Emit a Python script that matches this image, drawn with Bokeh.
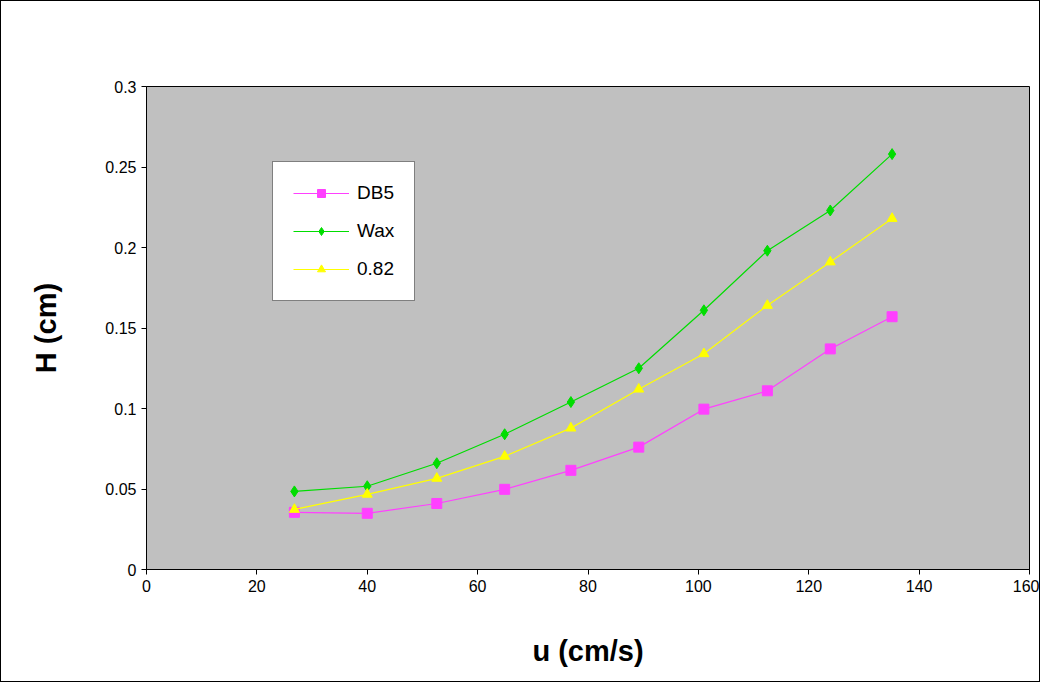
from bokeh.plotting import figure
from bokeh.models import Legend, LegendItem, FixedTicker, Range1d
from bokeh.embed import file_html
from bokeh.resources import INLINE

u = [26.8, 40.0, 52.6, 64.9, 76.9, 89.2, 101.0, 112.5, 123.9, 135.1]
db5 = [0.0355, 0.0349, 0.041, 0.0498, 0.0616, 0.076, 0.0996, 0.111, 0.137, 0.157]
wax = [0.0485, 0.0517, 0.066, 0.084, 0.104, 0.125, 0.161, 0.198, 0.223, 0.258]
v082 = [0.0373, 0.0467, 0.0566, 0.0703, 0.0878, 0.112, 0.134, 0.164, 0.191, 0.218]

p = figure(width=1040, height=682, output_backend="svg", toolbar_location=None,
           x_range=Range1d(0, 160), y_range=Range1d(0, 0.3),
           min_border_left=145, min_border_right=12, min_border_top=85, min_border_bottom=114,
           background_fill_color="#C0C0C0", border_fill_color="white")
p.styles = {"border": "1px solid black"}
p.outline_line_color = "black"
p.outline_line_width = 1
p.grid.visible = False

p.xaxis.ticker = FixedTicker(ticks=list(range(0, 161, 20)))
p.yaxis.ticker = FixedTicker(ticks=[0, 0.05, 0.1, 0.15, 0.2, 0.25, 0.3])
p.yaxis.major_label_overrides = {0: "0", 0.05: "0.05", 0.1: "0.1", 0.15: "0.15",
                                 0.2: "0.2", 0.25: "0.25", 0.3: "0.3"}
for ax in (p.xaxis, p.yaxis):
    ax.major_tick_in = 0
    ax.major_tick_out = 5
    ax.minor_tick_line_color = None
    ax.major_label_text_font = "Liberation Sans"
    ax.major_label_text_font_size = "16px"
    ax.major_label_text_color = "black"
    ax.axis_label_text_font = "Liberation Sans"
    ax.axis_label_text_font_size = "29px"
    ax.axis_label_text_font_style = "bold"
    ax.axis_label_text_color = "black"
    ax.axis_line_color = "black"
    ax.major_tick_line_color = "black"
p.xaxis.axis_label = "u (cm/s)"
p.yaxis.axis_label = "H (cm)"
p.xaxis.axis_label_standoff = 40
p.yaxis.axis_label_standoff = 40

l1 = p.line(u, db5, color="#FF40FF", line_width=1.2)
m1 = p.scatter(u, db5, marker="square", size=10, color="#FF40FF")
l2 = p.line(u, wax, color="#00DD00", line_width=1.2)
m2 = p.scatter(u, wax, marker="diamond", size=11, color="#00DD00")
l3 = p.line(u, v082, color="#FFFF00", line_width=1.2)
m3 = p.scatter(u, v082, marker="triangle", size=10, color="#FFFF00")

legend = Legend(items=[LegendItem(label="DB5", renderers=[l1, m1]),
                       LegendItem(label="Wax", renderers=[l2, m2]),
                       LegendItem(label="0.82", renderers=[l3, m3])],
                location=(126, 268), border_line_color="black", background_fill_alpha=1,
                label_text_font="Liberation Sans", label_text_font_size="19px",
                label_text_color="black",
                glyph_width=56, label_standoff=8, spacing=16, padding=20, margin=0)
p.add_layout(legend, "center")

open("out.html", "w").write(file_html(p, INLINE))
